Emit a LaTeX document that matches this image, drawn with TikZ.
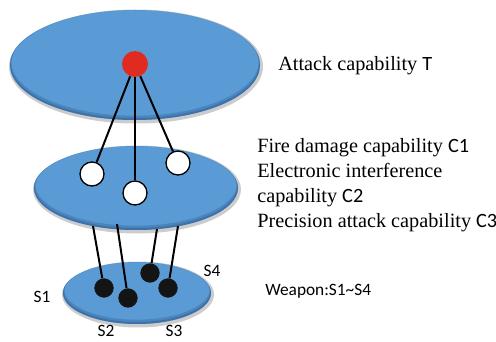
\documentclass[tikz,border=0pt]{standalone}
\usepackage{fontspec}
\setmainfont{Liberation Serif}
\newfontfamily\lblfont{Carlito}
\usepackage{tikz}
\usetikzlibrary{positioning, calc}
\definecolor{plateblue}{RGB}{91,155,213}
\definecolor{plateshade}{RGB}{46,92,146}
\definecolor{topred}{RGB}{224,44,32}
\newcommand{\plate}[4] {
    \fill[gray!40] (#1+1,#2+1.5) ellipse (#3+2 and #4+2);
    \fill[plateblue] (#1,#2) ellipse (#3 and #4);
    \begin{scope}
        \clip (#1,#2) ellipse (#3 and #4);
        \draw[plateshade, line width=5, opacity=0.35] (#1,#2-3) ellipse (#3+2 and #4+2);
        \draw[plateshade, line width=3, opacity=0.45] (#1,#2-1) ellipse (#3+1 and #4+1);
    \end{scope}
}
\newcommand{\txtline}[4]{
    \node[anchor=base west, inner sep=0, font=\fontsize{15.2}{18}\selectfont] (#1) at (#2,#3) {#4};
}
\tikzset{
    topdot/.style={circle, fill=topred, minimum size=19.5pt, inner sep=0},
    capdot/.style={circle, draw, fill=white, line width=1pt, minimum size=18pt, inner sep=0},
    wpndot/.style={circle, fill=black!92, minimum size=14.5pt, inner sep=0},
    link/.style={line width=1.5pt},
    wlabel/.style={font=\lblfont\fontsize{13}{15}\selectfont},
}

\begin{document}
\begin{tikzpicture}[x=0.75pt,y=-0.75pt]
                    \useasboundingbox (0,0) rectangle (496,342);
                    \plate{135}{65}{125}{55}
                    \plate{136}{188}{102}{42}
                    \plate{137}{293}{74}{31}
                    \node[topdot] (t) at (135,64) {};
                    \node[capdot] (c1) at (92,174) {};
                    \node[capdot] (c2) at (135,193) {};
                    \node[capdot] (c3) at (178,163) {};
                    \draw[link] (t) -- (c1);
                    \draw[link] (t) -- (c2);
                    \draw[link] (t) -- (c3);
                    \node[wpndot] (s1) at (104,288) {};
                    \node[wpndot] (s2) at (128,298) {};
                    \node[wpndot] (s3) at (168,288) {};
                    \node[wpndot] (s4) at (150,273) {};
                    \coordinate (m1) at (93,226);
                    \coordinate (m2) at (117,224);
                    \coordinate (m3) at (178,226);
                    \coordinate (m4) at (157,229);
                    \draw[link] (m1) -- (s1);
                    \draw[link] (m2) -- (s2);
                    \draw[link] (m3) -- (s3);
                    \draw[link] (m4) -- (s4);
                    \node[wlabel] (l1) at (42,297) {S1};
                    \node[wlabel] (l2) at (106,331) {S2};
                    \node[wlabel] (l3) at (174,331) {S3};
                    \node[wlabel] (l4) at (212,271) {S4};
                    \txtline{tt}{278}{71}{Attack capability {\lblfont T}}
                    \txtline{ct1}{257}{153}{Fire damage capability {\lblfont C1}}
                    \txtline{ct2}{257}{178}{Electronic interference}
                    \txtline{ct3}{257}{203}{capability {\lblfont C2}}
                    \txtline{ct4}{257}{228}{Precision attack capability {\lblfont C3}}
                    \node[wlabel, anchor=base west, inner sep=0] (wt) at (265,295) {Weapon:S1\textasciitilde S4};
                \end{tikzpicture}
\end{document}
